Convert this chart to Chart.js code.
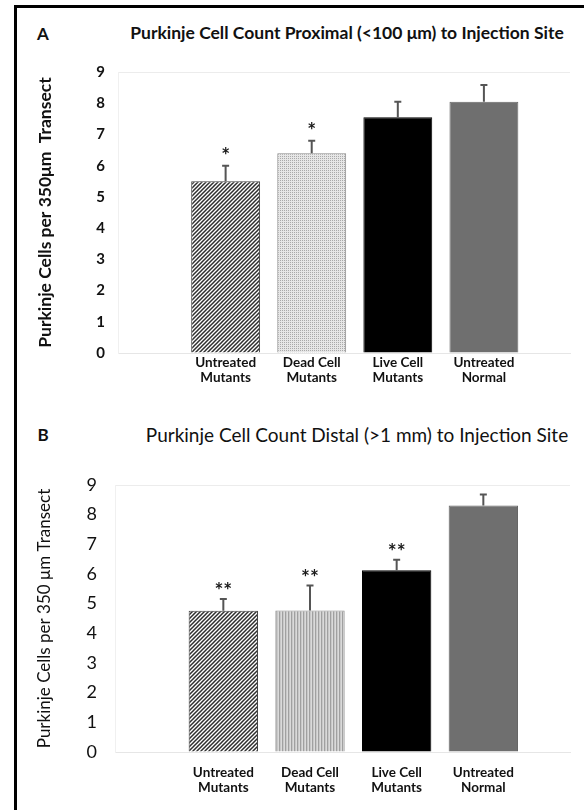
<!DOCTYPE html>
<html>
<head>
<meta charset="utf-8">
<script src="https://cdn.jsdelivr.net/npm/chart.js@4.4.1/dist/chart.umd.min.js"></script>
<style>
  html, body { margin: 0; padding: 0; background: #fff; }
  body { width: 584px; height: 810px; position: relative; overflow: hidden; font-family: Lato, sans-serif; color: #111; }
  #frame { position: absolute; left: 14px; top: 5px; width: 580px; height: 820px; border-left: 3px solid #000; border-top: 3px solid #000; }
  .lbl { position: absolute; white-space: nowrap; transform: translate(-50%, -50%); line-height: 1; }
  canvas { position: absolute; left: 0; }
</style>
</head>
<body>
<div id="frame"></div>
<div class="lbl" style="left:43px; top:33px; font-weight:bold; font-size:17px;">A</div>
<div class="lbl" style="left:347px; top:33px; font-weight:bold; font-size:17.5px;">Purkinje Cell Count Proximal (&lt;100 μm) to Injection Site</div>
<div class="lbl" style="left:43px; top:434px; font-weight:bold; font-size:17px;">B</div>
<div class="lbl" style="left:357px; top:434px; font-size:19px;">Purkinje Cell Count Distal (&gt;1 mm) to Injection Site</div>
<canvas id="chartA" width="584" height="400" style="top:0"></canvas>
<canvas id="chartB" width="584" height="410" style="top:400px"></canvas>
<script>
// Groups and their two-line axis labels
const categories = ['Untreated Mutants', 'Dead Cell Mutants', 'Live Cell Mutants', 'Untreated Normal'];
const tickLabels = [['Untreated', 'Mutants'], ['Dead Cell', 'Mutants'], ['Live Cell', 'Mutants'], ['Untreated', 'Normal']];

// Panel A: proximal (<100 µm) counts, upper error and significance marks
const proximalMeans = [5.5, 6.4, 7.55, 8.05];
const proximalErrors = [0.5, 0.4, 0.5, 0.53];
const proximalMarks = ['*', '*', '', ''];

// Panel B: distal (>1 mm) counts
const distalMeans = [4.76, 4.77, 6.13, 8.31];
const distalErrors = [0.4, 0.84, 0.35, 0.37];
const distalMarks = ['**', '**', '**', ''];

const yMin = 0, yMax = 9, yStep = 1;

Chart.defaults.font.family = 'Lato, sans-serif';
Chart.defaults.color = '#111';

// Fill patterns
function tile(w, h, paint) {
  const c = document.createElement('canvas');
  c.width = w; c.height = h;
  const g = c.getContext('2d');
  paint(g, w, h);
  return g.createPattern(c, 'repeat');
}
const diagonal = tile(4, 4, (g, w) => {
  g.fillStyle = '#fff'; g.fillRect(0, 0, w, w);
  g.strokeStyle = '#2e2e2e'; g.lineWidth = 1.5;
  g.beginPath();
  g.moveTo(-1, w + 1); g.lineTo(w + 1, -1);
  g.moveTo(-1, 1); g.lineTo(1, -1);
  g.moveTo(w - 1, w + 1); g.lineTo(w + 1, w - 1);
  g.stroke();
});
const dotted = tile(2, 2, g => {
  g.fillStyle = '#e6e6e6'; g.fillRect(0, 0, 2, 2);
  g.fillStyle = '#a9a9a9'; g.fillRect(0, 0, 1, 1);
});
const vertical = tile(3, 1, g => {
  g.fillStyle = '#a0a0a0'; g.fillRect(0, 0, 1, 1);
  g.fillStyle = '#c8c8c8'; g.fillRect(1, 0, 1, 1);
  g.fillStyle = '#dadada'; g.fillRect(2, 0, 1, 1);
});

// Upper error whiskers and significance asterisks
const errorBars = {
  id: 'errorBars',
  afterDatasetsDraw(chart, args, opts) {
    const ctx = chart.ctx;
    const y = chart.scales.y;
    const ds = chart.data.datasets[0];
    const meta = chart.getDatasetMeta(0);
    ctx.save();
    meta.data.forEach((bar, i) => {
      const top = y.getPixelForValue(ds.data[i].y + opts.errors[i]);
      ctx.strokeStyle = '#555';
      ctx.lineWidth = 2;
      ctx.beginPath();
      ctx.moveTo(bar.x, bar.y);
      ctx.lineTo(bar.x, top);
      ctx.moveTo(bar.x - 3.5, top);
      ctx.lineTo(bar.x + 3.5, top);
      ctx.stroke();
      if (opts.marks[i]) {
        ctx.fillStyle = '#1a1a1a';
        ctx.font = 'bold 21px Lato, sans-serif';
        ctx.textAlign = 'center';
        ctx.textBaseline = 'alphabetic';
        ctx.fillText(opts.marks[i], bar.x, top - opts.markGap);
      }
    });
    ctx.restore();
  }
};

function makeChart(id, means, errors, marks, fills, edges, cfg) {
  return new Chart(document.getElementById(id), {
    type: 'bar',
    data: {
      datasets: [{
        data: means.map((v, i) => ({ x: i + 1, y: v })),
        backgroundColor: fills,
        borderColor: edges,
        borderWidth: 1,
        borderSkipped: 'bottom',
        barPercentage: 0.8,
        categoryPercentage: 1
      }]
    },
    options: {
      responsive: false,
      animation: false,
      devicePixelRatio: 1,
      layout: { padding: { top: cfg.padTop, left: 20, right: 14, bottom: 0 } },
      plugins: {
        legend: { display: false },
        tooltip: { enabled: false },
        errorBars: { errors: errors, marks: marks, markGap: cfg.markGap }
      },
      scales: {
        x: {
          type: 'linear',
          offset: false,
          min: -0.25,
          max: categories.length + 1,
          grid: { display: false, drawTicks: false },
          border: { display: true, color: '#e6e6e6' },
          afterBuildTicks: s => { s.ticks = categories.map((c, i) => ({ value: i + 1 })); },
          afterFit: s => { s.height = cfg.xHeight; },
          ticks: {
            autoSkip: false,
            maxRotation: 0,
            padding: cfg.xPad,
            color: '#111',
            font: { size: 13.5, weight: 'bold', lineHeight: 1.1 },
            callback: v => tickLabels[v - 1]
          }
        },
        y: {
          min: yMin,
          max: yMax,
          grid: {
            drawTicks: false,
            color: c => (c.tick && c.tick.value === yMax ? '#ececec' : 'rgba(0,0,0,0)')
          },
          border: { display: true, color: '#f0f0f0' },
          afterFit: s => { s.width = cfg.yWidth; },
          ticks: {
            stepSize: yStep,
            padding: cfg.yTickPad,
            color: '#111',
            font: cfg.yTickFont
          },
          title: {
            display: true,
            text: cfg.yTitle,
            color: '#111',
            font: cfg.yTitleFont,
            padding: { top: cfg.yTitlePad, bottom: 0 }
          }
        }
      }
    },
    plugins: [errorBars]
  });
}

makeChart('chartA', proximalMeans, proximalErrors, proximalMarks,
  [diagonal, dotted, '#000000', '#6f6f6f'],
  ['#444444', '#8a8a8a', '#000000', '#666666'],
  {
    padTop: 72, xHeight: 47, xPad: 2, yWidth: 98, yTickPad: 13,
    yTickFont: { size: 15, weight: 'bold' },
    yTitle: 'Purkinje Cells per 350μm  Transect',
    yTitleFont: { size: 17.5, weight: 'bold' },
    yTitlePad: 15, markGap: 3
  });

makeChart('chartB', distalMeans, distalErrors, distalMarks,
  [diagonal, vertical, '#000000', '#6f6f6f'],
  ['#444444', '#8a8a8a', '#000000', '#666666'],
  {
    padTop: 85, xHeight: 58, xPad: 13, yWidth: 95, yTickPad: 18,
    yTickFont: { size: 18 },
    yTitle: 'Purkinje Cells per 350 μm Transect',
    yTitleFont: { size: 17 },
    yTitlePad: 14, markGap: 1
  });
</script>
</body>
</html>
